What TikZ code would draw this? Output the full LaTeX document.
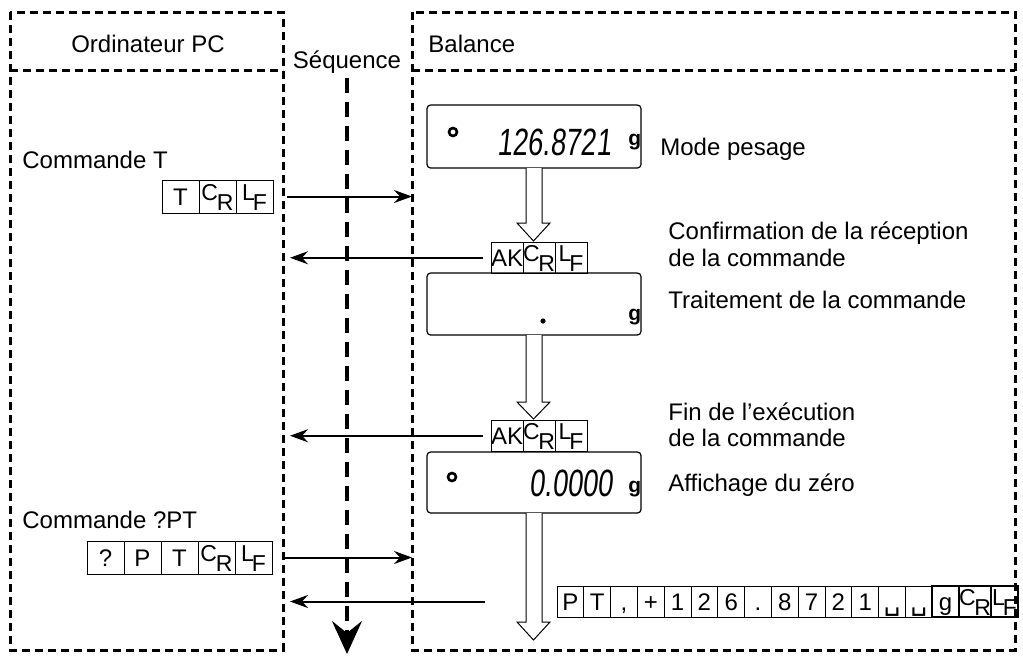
\documentclass[tikz,border=0pt]{standalone}
\usepackage{fontspec}
\setmainfont{Liberation Sans}
\newfontfamily\dejavu{DejaVu Sans}
\usetikzlibrary{arrows.meta,positioning}
\newcommand{\crsym}{\raisebox{2.4pt}{\fontsize{11.5}{11.5}\selectfont C}\kern-0.6pt\raisebox{-2.6pt}{\fontsize{11.5}{11.5}\selectfont R}}
\newcommand{\lfsym}{\raisebox{2.4pt}{\fontsize{11.5}{11.5}\selectfont L}\kern-1pt\raisebox{-2.6pt}{\fontsize{11.5}{11.5}\selectfont F}}
\newcommand{\blanksym}{{\dejavu\fontsize{13}{13}\selectfont ␣}}
\begin{document}
\begin{tikzpicture}[x=0.5pt,y=-0.5pt,
  frame/.style={line width=1.5pt, dash pattern=on 4pt off 2.5pt},
  seqline/.style={line width=1.6pt, dash pattern=on 7.5pt off 4.5pt, -{Stealth[length=16.5pt,width=15pt,inset=6pt]}},
  arr/.style={line width=1pt, -{Stealth[length=9pt,width=6.5pt,inset=3pt]}},
  cell/.style={draw, line width=0.5pt, minimum width=#1, minimum height=16.5pt, inner sep=0pt, outer sep=0pt, text height=8.6pt, text depth=0pt, font=\fontsize{12}{12}\selectfont},
  cell/.default=18.5pt,
  acell/.style={cell=16pt, minimum height=15.75pt},
  dcell/.style={cell=13.4pt, minimum height=15.5pt},
  tcell/.style={dcell, line width=1pt},
  disp/.style={draw, line width=0.6pt, rounded corners=1.8pt, minimum width=107pt, inner sep=0pt, outer sep=0pt},
  lcd/.style={anchor=base west, inner sep=0pt, font=\fontsize{19}{19}\selectfont, xscale=0.72, xslant=0.15},
  lcdg/.style={anchor=base west, inner sep=0pt, font=\fontsize{10.5}{10.5}\selectfont\bfseries},
  hollow/.style={draw, line width=0.5pt, fill=white},
  lbl/.style={anchor=base west, inner sep=0pt, font=\fontsize{12}{14}\selectfont},
  head/.style={anchor=base, inner sep=0pt, font=\fontsize{12}{14}\selectfont}]
\useasboundingbox (0,0) rectangle (1023,655);

% frames
\draw[frame] (10,12) rectangle (283,650);
\draw[frame] (10,70) -- (283,70);
\draw[frame] (412,12) rectangle (1015,650);
\draw[frame] (412,70) -- (1015,70);
\coordinate (rf) at (412,12);
\coordinate (lin) at (290,12);

% headers
\node[head] (hpc) at (148,52) {Ordinateur PC};
\node[head] (hseq) at (347,68) {Séquence};
\node[lbl] (hbal) at (428,52) {Balance};

% sequence line
\coordinate (seqend) at (347,654);
\draw[seqline] ([yshift=-5pt]hseq.base) -- (seqend);

% displays
\node[disp, anchor=north west, minimum height=31.5pt] (d1) at (427,105) {};
\node[disp, anchor=north west, minimum height=31pt] (d2) at (427,273) {};
\node[disp, anchor=north west, minimum height=30.5pt] (d3) at (427,452) {};

\draw[line width=1.3pt] (453,132) circle (2pt);
\node[lcd] (v1) at (497,155) {126.8721};
\node[lcdg] (g1) at (628,145) {g};

\fill (543,321) circle (1.3pt);
\node[lcdg] (g2) at (628,320) {g};

\draw[line width=1.3pt] (452,477) circle (2pt);
\node[lcd] (v3) at (529,496) {0.0000};
\node[lcdg] (g3) at (628,492) {g};

% right labels
\node[lbl] (l1) at (660,155) {Mode pesage};
\node[lbl] (l2) at (668,239) {Confirmation de la réception};
\node[lbl] (l3) at (668,266) {de la commande};
\node[lbl] (l4) at (668,308) {Traitement de la commande};
\node[lbl] (l5) at (668,420) {Fin de l’exécution};
\node[lbl] (l6) at (668,446) {de la commande};
\node[lbl] (l7) at (668,491) {Affichage du zéro};

% left labels
\node[lbl] (c1) at (22,168) {Commande T};
\node[lbl] (c2) at (22,528) {Commande ?PT};

% command T
\node[cell, anchor=north west] (a1) at (162,180) {T};
\node[cell, right=0pt of a1] (a2) {\crsym};
\node[cell, right=0pt of a2] (a3) {\lfsym};
\draw[arr] ([xshift=7pt]a3.east) -- (a3.east -| rf);

% AK 1
\node[acell, anchor=north west] (b1) at (491,242) {AK};
\node[acell, right=0pt of b1] (b2) {\crsym};
\node[acell, right=0pt of b2] (b3) {\lfsym};
\draw[arr] ([xshift=-4pt]b1.west) -- (b1.west -| lin);

% AK 2
\node[acell, anchor=north west] (e1) at (491,420) {AK};
\node[acell, right=0pt of e1] (e2) {\crsym};
\node[acell, right=0pt of e2] (e3) {\lfsym};
\draw[arr] ([xshift=-4pt]e1.west) -- (e1.west -| lin);

% hollow arrows
\draw[hollow] (526,168) -- (526,223) -- (517,223) -- (533.5,241) -- (550,223) -- (542,223) -- (542,168);
\draw[hollow] (526,335) -- (526,402) -- (517,402) -- (533.5,419) -- (550,402) -- (542,402) -- (542,335);
\draw[hollow] (526,513) -- (526,622) -- (517,622) -- (533.5,640) -- (550,622) -- (542,622) -- (542,513);

% command ?PT
\node[cell, anchor=north west] (p1) at (87,541) {?};
\node[cell, right=0pt of p1] (p2) {P};
\node[cell, right=0pt of p2] (p3) {T};
\node[cell, right=0pt of p3] (p4) {\crsym};
\node[cell, right=0pt of p4] (p5) {\lfsym};
\draw[arr] ([xshift=6pt]p5.east) -- (p5.east -| rf);

% data row
\node[dcell, anchor=north west] (f1) at (557,586) {P};
\node[dcell, right=0pt of f1] (f2) {T};
\node[dcell, right=0pt of f2] (f3) {,};
\node[dcell, right=0pt of f3] (f4) {+};
\node[dcell, right=0pt of f4] (f5) {1};
\node[dcell, right=0pt of f5] (f6) {2};
\node[dcell, right=0pt of f6] (f7) {6};
\node[dcell, right=0pt of f7] (f8) {.};
\node[dcell, right=0pt of f8] (f9) {8};
\node[dcell, right=0pt of f9] (f10) {7};
\node[dcell, right=0pt of f10] (f11) {2};
\node[dcell, right=0pt of f11] (f12) {1};
\node[dcell, right=0pt of f12] (f13) {\blanksym};
\node[dcell, right=0pt of f13] (f14) {\blanksym};
\node[tcell, right=0pt of f14] (f15) {g};
\node[tcell, right=0pt of f15] (f16) {\crsym};
\node[tcell, right=0pt of f16] (f17) {\lfsym};
\draw[arr] ([xshift=-36pt]f1.west) -- (f1.west -| lin);
\end{tikzpicture}
\end{document}
